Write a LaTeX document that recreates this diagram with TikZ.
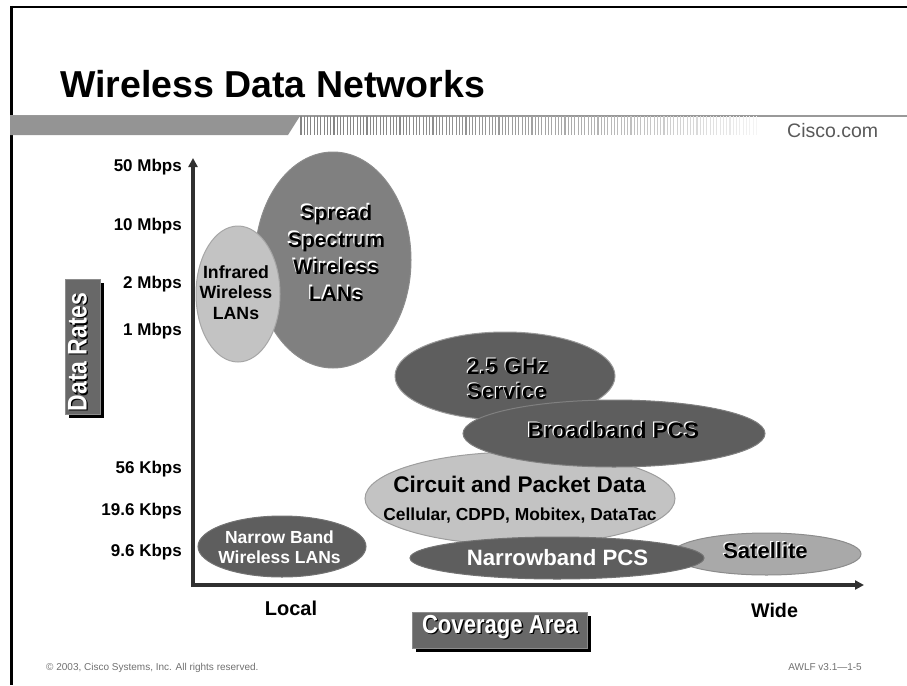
\documentclass[tikz,border=0pt]{standalone}
\usepackage{fontspec}
\setmainfont{Liberation Sans}
\newfontfamily\narrowfont[FakeStretch=0.85]{Liberation Sans}
\usetikzlibrary{shapes.geometric,arrows.meta,calc,shadows}

\definecolor{darkzone}{HTML}{5E5E5E}
\definecolor{midzone}{HTML}{808080}
\definecolor{lightzone}{HTML}{C3C3C3}
\definecolor{satzone}{HTML}{A9A9A9}
\definecolor{axisgray}{HTML}{303030}
\definecolor{boxgray}{HTML}{686868}
\definecolor{footgray}{HTML}{707070}

% black letters with a white rim up and left
\newcommand\embossed[4]{%
  \node[#1,text=white] at ($(#3)+(-1.2,-1.2)$) {#4};
  \node[#1,text=black] (#2) at (#3) {#4};}
% white letters with a black drop shadow
\newcommand\shadowed[4]{%
  \node[#1,text=black] at ($(#3)+(1.4,1.4)$) {#4};
  \node[#1,text=white] (#2) at (#3) {#4};}

\begin{document}
\begin{tikzpicture}[x=1pt,y=-1pt,
  zone/.style={ellipse,inner sep=0pt,line width=1pt},
  capline/.style={text height=0.716em,text depth=0pt,inner sep=0pt},
  ratelabel/.style={capline,anchor=east,font=\bfseries\fontsize{17}{20}\selectfont},
  zonetext/.style={inner sep=0pt,align=center},
  axisline/.style={draw=axisgray,line width=4pt,-{Triangle[length=9pt,width=9pt]}},
  titlebox/.style={rectangle,fill=boxgray,draw=black!45,line width=0.6pt,inner sep=0pt,
    drop shadow={shadow xshift=3.5pt,shadow yshift=-3.5pt,fill=black,opacity=1}}]
\useasboundingbox (0,0) rectangle (907,685);

% frame
\draw[line width=2.5pt] (907,7) -- (10,7);
\draw[line width=3pt] (11,6) -- (11,685);

% title
\node[anchor=base west,inner sep=0pt,font=\bfseries\fontsize{37.5}{40}\selectfont] (title) at (60,97) {Wireless Data Networks};

% header band
\draw[black!40,line width=1.5pt] (10,116) -- (907,116);
\fill[black!42] (10,116) -- (300,116) -- (288,135) -- (10,135) -- cycle;
\foreach \i in {0,...,138}{%
  \pgfmathsetmacro\xx{301+3.3*\i}%
  \pgfmathsetmacro\shade{48-44*(\i/138)^2}%
  \draw[black!\shade,line width=1.1pt] (\xx,116) -- (\xx,135);
}
\node[anchor=base west,inner sep=0pt,text=black!65,font=\fontsize{19.5}{22}\selectfont] (cisco) at (787,137) {Cisco.com};

% rate scale
\node[ratelabel] (r50) at (182,168) {50 Mbps};
\node[ratelabel] (r10) at (182,227) {10 Mbps};
\node[ratelabel] (r2)  at (182,285) {2 Mbps};
\node[ratelabel] (r1)  at (182,332) {1 Mbps};
\node[ratelabel] (r56) at (182,470) {56 Kbps};
\node[ratelabel] (r19) at (182,512) {19.6 Kbps};
\node[ratelabel] (r9)  at (182,553) {9.6 Kbps};

% rate caption
\node[titlebox,minimum width=35pt,minimum height=135pt] (ratesbox) at (82.5,346.5) {};
\shadowed{rotate=90,capline,font=\narrowfont\bfseries\fontsize{27}{30}\selectfont}{ratestext}{83,352}{Data Rates}

% zones, back to front
\node[zone,fill=midzone,draw=black!45,minimum width=156pt,minimum height=216pt] (spread) at (333,260) {};
\node[zone,fill=lightzone,draw=black!35,minimum width=84pt,minimum height=136pt] (infrared) at (238,294) {};
\node[zone,fill=darkzone,draw=black!40,minimum width=220pt,minimum height=88pt] (ghz) at (505,376) {};
\node[zone,fill=lightzone,draw=black!38,minimum width=310pt,minimum height=93pt] (circuit) at (520,498.5) {};
\node[zone,fill=darkzone,draw=black!50,minimum width=302pt,minimum height=67pt] (bband) at (614,433.5) {};
\node[zone,fill=satzone,draw=black!45,minimum width=189pt,minimum height=42pt] (satellite) at (766.5,554) {};
\node[zone,fill=darkzone,draw=black!55,minimum width=294pt,minimum height=42pt] (npcs) at (557,558) {};
\node[zone,fill=darkzone,draw=black!55,minimum width=168pt,minimum height=61pt] (nblan) at (282,546.5) {};

% zone names
\embossed{zonetext,font=\bfseries\fontsize{21}{27}\selectfont}{spreadtext}{336.5,253}{Spread\\Spectrum\\Wireless\\LANs}
\node[zonetext,font=\bfseries\fontsize{17.7}{20.5}\selectfont] (infratext) at (236,292.5) {Infrared\\Wireless\\LANs};
\embossed{zonetext,align=left,anchor=west,font=\bfseries\fontsize{22.5}{25}\selectfont}{ghztext}{467,379.5}{2.5 GHz\\Service}
\embossed{capline,font=\bfseries\fontsize{22.5}{25}\selectfont}{bbandtext}{613.5,435}{Broadband PCS}
\node[capline,font=\bfseries\fontsize{22.6}{25}\selectfont] (circtext) at (519.5,489) {Circuit and Packet Data};
\node[capline,font=\bfseries\fontsize{17.4}{20}\selectfont] (circsub) at (520,517) {Cellular, CDPD, Mobitex, DataTac};
\node[zonetext,text=white,font=\bfseries\fontsize{17.5}{20}\selectfont] (nblantext) at (279.5,547) {Narrow Band\\Wireless LANs};
\node[capline,text=white,font=\bfseries\fontsize{22.2}{25}\selectfont] (npcstext) at (557.5,562) {Narrowband PCS};
\embossed{capline,font=\bfseries\fontsize{22}{25}\selectfont}{sattext}{765.5,555}{Satellite}

% axes
\coordinate (vbot) at (193,587);
\coordinate (ytop) at (193,158);
\coordinate (hstart) at (195,585);
\coordinate (xend) at (864,585);
\draw[axisline] (vbot) -- (ytop);
\draw[axisline] (hstart) -- (xend);

% coverage scale
\node[capline,font=\bfseries\fontsize{20}{24}\selectfont] (local) at (291,612) {Local};
\node[capline,font=\bfseries\fontsize{19.7}{24}\selectfont] (wide) at (774.5,614) {Wide};
\node[titlebox,minimum width=175pt,minimum height=36pt] (coverbox) at (499.5,630) {};
\shadowed{capline,font=\narrowfont\bfseries\fontsize{26}{30}\selectfont}{covertext}{500,630}{Coverage Area}

% footer
\node[anchor=base west,inner sep=0pt,text=footgray,font=\fontsize{10}{12}\selectfont] (copyright) at (46,670) {\textcopyright{} 2003, Cisco Systems, Inc. All rights reserved.};
\node[anchor=base east,inner sep=0pt,text=footgray,font=\fontsize{10}{12}\selectfont] (courseid) at (862,670) {AWLF v3.1---1-5};
\end{tikzpicture}
\end{document}
